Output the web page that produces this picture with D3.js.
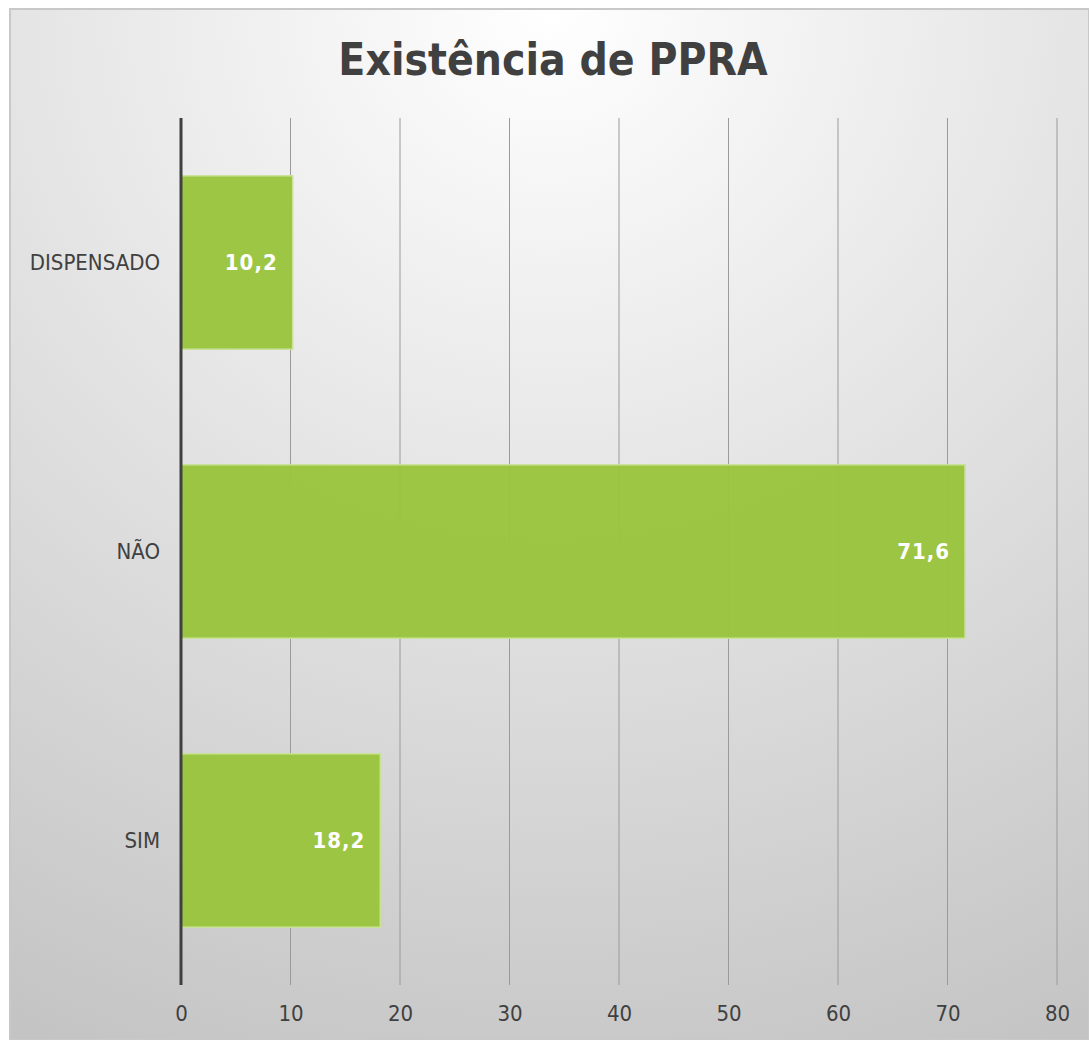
<!DOCTYPE html>
<html>
<head>
<meta charset="utf-8">
<style>
  body { margin: 0; background: #fff; }
  .tick text { font-family: "DejaVu Sans Condensed", "DejaVu Sans", sans-serif; font-size: 22px; fill: #404040; }
  .title { font-family: "DejaVu Sans Condensed", "DejaVu Sans", sans-serif; font-size: 44px; font-weight: bold; fill: #404040; }
  .label { font-family: "DejaVu Sans Condensed", "DejaVu Sans", sans-serif; font-size: 22px; font-weight: bold; fill: #fff; letter-spacing: 1px; }
</style>
</head>
<body>
<script src="https://d3js.org/d3.v7.min.js"></script>
<script>
// chart data
var categories = ["DISPENSADO", "NÃO", "SIM"];
var values = [10.2, 71.6, 18.2];
var xTicks = [0, 10, 20, 30, 40, 50, 60, 70, 80];
var title = "Existência de PPRA";

var W = 1089, H = 1040;
var margin = {top: 118, right: 32, bottom: 55, left: 181};
var width = W - margin.left - margin.right,
    height = H - margin.top - margin.bottom;

var svg = d3.select("body").append("svg")
    .attr("width", W)
    .attr("height", H);

// background gradient (white at top, grey at the bottom)
var defs = svg.append("defs");
var grad = defs.append("radialGradient")
    .attr("id", "bg")
    .attr("cx", "0.5").attr("cy", "0")
    .attr("r", "1.1")
    .attr("gradientUnits", "objectBoundingBox");
grad.append("stop").attr("offset", "0").attr("stop-color", "#ffffff");
grad.append("stop").attr("offset", "1").attr("stop-color", "#c4c4c4");

svg.append("rect")
    .attr("x", 10).attr("y", 9)
    .attr("width", W - 10).attr("height", H - 9)
    .attr("fill", "url(#bg)")
    .attr("stroke", "#c8c8c8")
    .attr("stroke-width", 2);

svg.append("text")
    .attr("class", "title")
    .attr("x", 553)
    .attr("y", 75)
    .attr("text-anchor", "middle")
    .text(title);

var g = svg.append("g")
    .attr("transform", "translate(" + margin.left + "," + margin.top + ")");

var x = d3.scaleLinear().domain([0, 80]).range([0, width]);
var y = d3.scaleBand().domain(categories).range([0, height]).paddingInner(0.4).paddingOuter(0.2);

// vertical grid lines
g.append("g")
    .selectAll("line")
    .data(xTicks.slice(1))
    .enter().append("line")
    .attr("x1", function(d) { return x(d); })
    .attr("x2", function(d) { return x(d); })
    .attr("y1", 0)
    .attr("y2", height)
    .attr("stroke", "#9a9a9a")
    .attr("stroke-width", 1);

// bars
g.selectAll(".bar")
    .data(values)
    .enter().append("rect")
    .attr("class", "bar")
    .attr("x", x(0))
    .attr("y", function(d, i) { return y(categories[i]); })
    .attr("width", function(d) { return x(d) - x(0); })
    .attr("height", y.bandwidth())
    .attr("fill", "#9bc43f")
    .attr("fill-opacity", 0.97)
    .attr("stroke", "#c9e298")
    .attr("stroke-width", 1.5);

// value labels, inside the bar end
g.selectAll(".label")
    .data(values)
    .enter().append("text")
    .attr("class", "label")
    .attr("x", function(d) { return x(d) - 15; })
    .attr("y", function(d, i) { return y(categories[i]) + y.bandwidth() / 2; })
    .attr("dy", "0.36em")
    .attr("text-anchor", "end")
    .text(function(d) { return String(d).replace(".", ","); });

// x axis labels
var xAxis = g.append("g")
    .attr("transform", "translate(0," + height + ")")
    .call(d3.axisBottom(x).tickValues(xTicks).tickSize(0).tickPadding(20));
xAxis.select(".domain").remove();

// y axis
var yAxis = g.append("g")
    .call(d3.axisLeft(y).tickSize(0).tickPadding(21));
yAxis.select(".domain").remove();

g.append("line")
    .attr("x1", x(0)).attr("x2", x(0))
    .attr("y1", 0).attr("y2", height)
    .attr("stroke", "#404040")
    .attr("stroke-width", 3);
</script>
</body>
</html>
